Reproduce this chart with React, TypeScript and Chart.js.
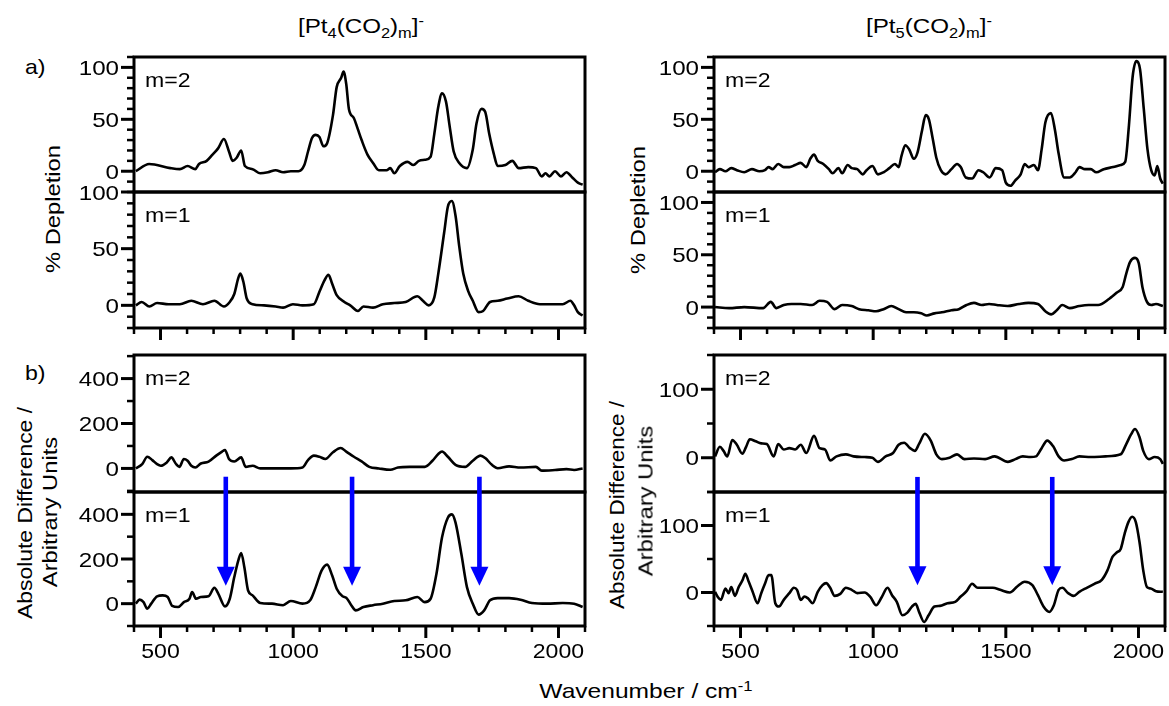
import React, { useEffect, useRef } from "react";
import { Chart, registerables } from "chart.js";

Chart.register(...registerables);

type Pt = [number, number];

// ---------------- axes / ticks ----------------
const xMin = 400;
const xMax = 2100;
const xTickLabels = [500, 1000, 1500, 2000];
const xMinorStep = 100;

const depletionTicks = [0, 50, 100];
const depletionMinorStep = 10;
const pt4DiffTicks = [0, 200, 400];
const pt4DiffMinorStep = 100;
const pt5DiffTicks = [0, 100];
const pt5DiffMinorStep = 50;

// ---------------- [Pt4(CO2)m]- ----------------
const pt4DepletionM2: Pt[] = [
  [407, 0], [457, 7], [537, 3], [573, 2], [602, 5], [631, 2], [645, 7], [674, 10], [696, 16], [717, 22],
  [739, 31], [758, 19], [772, 10], [787, 13], [804, 20], [818, 5], [847, 2], [876, -2], [905, -1], [934, 1],
  [962, -1], [991, 0], [1020, 0], [1042, 6], [1056, 19], [1071, 32], [1085, 35], [1099, 33], [1114, 24], [1128, 27],
  [1150, 54], [1164, 81], [1181, 90], [1190, 96], [1200, 84], [1210, 60], [1229, 51], [1243, 41], [1258, 30], [1280, 16],
  [1301, 8], [1323, 1], [1352, 1], [1366, 3], [1381, -2], [1402, 5], [1431, 9], [1453, 6], [1474, 10], [1496, 11],
  [1518, 14], [1532, 36], [1547, 62], [1561, 75], [1576, 67], [1590, 43], [1605, 19], [1626, 8], [1655, 3], [1677, 21],
  [1691, 46], [1710, 60], [1724, 57], [1739, 36], [1756, 17], [1771, 5], [1800, 6], [1826, 10], [1850, 3], [1886, 4],
  [1915, 3], [1937, -5], [1951, -2], [1966, -5], [1987, 0], [2009, -5], [2030, -1], [2052, -6], [2073, -11], [2091, -13],
];

const pt4DepletionM1: Pt[] = [
  [407, 0], [429, 3], [458, -1], [487, 2], [530, 1], [573, 1], [616, 4], [660, 1], [703, 4], [739, -1],
  [761, 3], [778, 10], [793, 24], [801, 28], [812, 21], [825, 6], [847, 1], [890, 0], [934, -1], [962, -2],
  [999, 1], [1035, 0], [1078, 1], [1099, 12], [1118, 22], [1133, 27], [1147, 19], [1164, 9], [1193, 3], [1215, 0],
  [1244, -5], [1265, -1], [1301, -2], [1338, 1], [1381, 2], [1424, 3], [1468, 8], [1489, 4], [1511, 0], [1532, 7],
  [1547, 28], [1569, 64], [1583, 87], [1598, 92], [1612, 79], [1626, 52], [1641, 28], [1659, 13], [1677, 4], [1699, -6],
  [1716, -5], [1742, 3], [1771, 4], [1807, 6], [1850, 8], [1886, 4], [1930, 1], [1973, 1], [2016, 1], [2045, 4],
  [2059, 0], [2073, -6], [2091, -9],
];

const pt4DiffM2: Pt[] = [
  [407, 0], [431, 19], [450, 52], [469, 37], [487, 19], [501, 12], [524, 27], [541, 49], [557, 22], [571, 7],
  [588, 42], [602, 34], [616, 12], [631, 4], [652, 22], [681, 30], [710, 57], [732, 75], [743, 82], [758, 42],
  [778, 31], [804, 49], [821, 7], [847, 12], [876, 0], [934, 0], [991, 0], [1035, 4], [1056, 37], [1078, 57],
  [1099, 52], [1121, 42], [1150, 72], [1179, 91], [1200, 75], [1229, 52], [1258, 31], [1287, 7], [1323, 0], [1366, -6],
  [1395, 4], [1439, 7], [1496, 7], [1525, 34], [1547, 64], [1561, 75], [1583, 52], [1612, 16], [1648, 7], [1677, 34],
  [1706, 57], [1724, 46], [1749, 16], [1771, 1], [1814, 9], [1857, 4], [1915, 7], [1937, -10], [1987, -7], [2030, -3],
  [2059, -7], [2091, 0],
];

const pt4DiffM1: Pt[] = [
  [407, 0], [421, 18], [436, 7], [450, -22], [465, 0], [487, 33], [508, 37], [527, 30], [544, -10], [566, -15],
  [588, 7], [609, 22], [619, 52], [634, 22], [652, 30], [681, 33], [703, 71], [718, 44], [743, -12], [761, 22],
  [778, 119], [793, 193], [804, 227], [816, 163], [830, 59], [847, 37], [876, 3], [920, 0], [962, -7], [991, 12],
  [1035, 0], [1064, 15], [1085, 74], [1107, 148], [1128, 175], [1147, 126], [1164, 67], [1186, 33], [1200, 27], [1219, -7],
  [1236, -30], [1265, -15], [1301, -7], [1338, 0], [1381, 12], [1424, 15], [1468, 30], [1496, 7], [1518, 22], [1540, 133],
  [1561, 296], [1583, 385], [1598, 400], [1612, 363], [1634, 222], [1655, 74], [1677, 0], [1699, -49], [1720, -30], [1742, 15],
  [1771, 25], [1814, 25], [1857, 18], [1900, 3], [1958, 0], [2016, 3], [2059, 0], [2091, -15],
];

// ---------------- [Pt5(CO2)m]- ----------------
const pt5DepletionM2: Pt[] = [
  [404, -1], [422, 2], [443, 0], [465, 3], [486, 1], [514, -1], [543, 2], [571, 0], [592, 1], [606, 4],
  [621, 2], [642, 7], [663, 4], [684, 4], [706, 6], [727, 8], [748, 4], [763, 12], [777, 16], [791, 10],
  [812, 7], [833, 2], [847, -2], [869, 3], [883, -2], [904, 6], [919, 3], [940, 2], [961, -3], [975, 1],
  [997, 5], [1018, -3], [1039, -1], [1061, 3], [1082, 7], [1096, 4], [1107, 15], [1121, 25], [1136, 21], [1153, 12],
  [1167, 18], [1184, 39], [1198, 54], [1210, 50], [1224, 32], [1238, 13], [1255, 1], [1273, -3], [1295, 2], [1316, 7],
  [1330, 4], [1349, -6], [1373, -7], [1397, 1], [1415, -1], [1439, -6], [1462, 3], [1486, 1], [1500, -11], [1518, -14],
  [1535, -9], [1556, -3], [1571, 7], [1585, 4], [1606, 6], [1621, 1], [1635, 21], [1649, 47], [1670, 56], [1685, 40],
  [1699, 17], [1720, -6], [1741, -6], [1763, -1], [1777, 4], [1798, 2], [1820, 2], [1841, -1], [1869, 2], [1905, 4],
  [1933, 6], [1950, 9], [1964, 44], [1978, 91], [1992, 106], [2006, 98], [2020, 60], [2034, 21], [2048, 1], [2061, -4],
  [2071, 5], [2082, -7], [2092, -12],
];

const pt5DepletionM1: Pt[] = [
  [404, 0], [457, -1], [514, 0], [585, -1], [614, 5], [635, -1], [663, 2], [692, 3], [727, 3], [770, 2],
  [798, 6], [826, 5], [855, -2], [883, 2], [919, 1], [947, -2], [982, -3], [1011, -4], [1039, -2], [1068, 1],
  [1096, -2], [1124, -5], [1153, -5], [1181, -6], [1202, -8], [1231, -6], [1259, -5], [1295, -3], [1323, -2], [1352, 2],
  [1380, 4], [1409, 2], [1437, 3], [1466, 2], [1507, 1], [1550, 3], [1585, 4], [1621, 3], [1649, -4], [1671, -7],
  [1692, -3], [1713, 2], [1741, -1], [1777, 1], [1812, 2], [1848, 2], [1890, 8], [1919, 14], [1940, 19], [1954, 32],
  [1968, 43], [1987, 47], [2001, 42], [2015, 19], [2032, 5], [2048, 2], [2066, 3], [2092, 1],
];

const pt5DiffM2: Pt[] = [
  [404, 2], [422, 16], [436, 10], [450, 2], [469, 26], [486, 19], [507, 6], [521, 16], [535, 27], [557, 24],
  [578, 21], [599, 20], [625, 2], [642, 20], [663, 12], [684, 14], [706, 12], [727, 19], [748, 7], [777, 32],
  [798, 14], [819, 12], [838, -4], [862, 2], [897, 5], [926, 2], [968, 1], [997, 0], [1018, -6], [1047, 2],
  [1075, 7], [1096, 19], [1117, 22], [1139, 14], [1157, 10], [1174, 21], [1195, 35], [1217, 25], [1238, 5], [1259, -2],
  [1288, 0], [1316, 5], [1344, -2], [1380, -1], [1422, -2], [1458, 2], [1508, -6], [1536, -2], [1564, 2], [1593, 1],
  [1614, 2], [1635, 14], [1656, 25], [1678, 17], [1699, 2], [1720, -4], [1749, -2], [1777, 2], [1820, 1], [1876, 2],
  [1933, 5], [1954, 20], [1972, 34], [1987, 42], [2004, 30], [2018, 10], [2039, -2], [2061, 1], [2082, -2], [2092, -9],
];

const pt5DiffM1: Pt[] = [
  [404, 1], [415, -7], [426, -11], [443, 6], [455, -1], [465, 8], [479, -5], [493, 8], [507, 18], [518, 28],
  [531, 16], [545, 2], [564, -16], [578, -1], [592, 13], [606, 26], [616, 26], [631, -16], [645, -21], [663, -11],
  [684, -1], [701, 7], [713, 4], [727, -11], [741, -6], [755, -9], [772, -16], [791, 1], [809, 11], [823, 14],
  [838, 7], [855, -5], [876, -2], [897, 7], [919, 4], [940, -1], [968, 0], [990, -7], [1011, -19], [1032, -7],
  [1054, 7], [1071, -4], [1089, -14], [1110, -34], [1129, -30], [1146, -21], [1160, -17], [1174, -30], [1192, -44], [1209, -34],
  [1231, -21], [1252, -20], [1280, -16], [1309, -14], [1330, -6], [1352, 2], [1373, 13], [1394, 7], [1422, 7], [1451, 7],
  [1479, 4], [1515, 0], [1543, 9], [1571, 16], [1600, 11], [1621, -4], [1642, -21], [1664, -29], [1681, -19], [1699, 4],
  [1713, 7], [1735, -1], [1756, -5], [1777, 1], [1805, 7], [1834, 13], [1862, 19], [1883, 33], [1902, 53], [1919, 60],
  [1933, 65], [1948, 88], [1962, 105], [1976, 113], [1990, 105], [2004, 75], [2018, 33], [2032, 8], [2046, 6], [2066, 2],
  [2092, 1],
];

// arrows (wavenumber positions; start value on the m=2 scale, tip value on the m=1 scale)
const pt4ArrowWavenumbers = [746, 1222, 1702];
const pt4ArrowFrom = -37;
const pt4ArrowTo = 80;
const pt5ArrowWavenumbers = [1167, 1675];
const pt5ArrowFrom = -28;
const pt5ArrowTo = 11;

// ---------------- rendering ----------------
const FONT = '"Liberation Sans", Arial, Helvetica, sans-serif';
const FS = 21;
const TICK_SX = 1.15;
const TEXT_SX = 1.13;
const AXIS_W = 64;

interface Panel {
  data: Pt[];
  min: number;
  max: number;
  weight: number;
  ticks: number[];
  minorStep: number;
  label: string;
}
interface Group {
  left: number;
  top: number;
  width: number;
  height: number;
  padTop: number;
  xAxisH: number;
  showXLabels: boolean;
  upper: Panel;
  lower: Panel;
  arrows?: { wn: number[]; from: number; to: number };
}

const groups: Group[] = [
  {
    left: 70, top: 50, width: 519, height: 295, padTop: 7, xAxisH: 17, showXLabels: false,
    upper: { data: pt4DepletionM2, min: -20, max: 110, weight: 135, ticks: depletionTicks, minorStep: depletionMinorStep, label: "m=2" },
    lower: { data: pt4DepletionM1, min: -20, max: 100, weight: 136, ticks: depletionTicks, minorStep: depletionMinorStep, label: "m=1" },
  },
  {
    left: 650, top: 50, width: 519, height: 295, padTop: 7, xAxisH: 17, showXLabels: false,
    upper: { data: pt5DepletionM2, min: -20, max: 110, weight: 135, ticks: depletionTicks, minorStep: depletionMinorStep, label: "m=2" },
    lower: { data: pt5DepletionM1, min: -20, max: 110, weight: 136, ticks: depletionTicks, minorStep: depletionMinorStep, label: "m=1" },
  },
  {
    left: 70, top: 345, width: 519, height: 325, padTop: 10, xAxisH: 44, showXLabels: true,
    upper: { data: pt4DiffM2, min: -105, max: 505, weight: 137, ticks: pt4DiffTicks, minorStep: pt4DiffMinorStep, label: "m=2" },
    lower: { data: pt4DiffM1, min: -100, max: 500, weight: 134, ticks: pt4DiffTicks, minorStep: pt4DiffMinorStep, label: "m=1" },
    arrows: { wn: pt4ArrowWavenumbers, from: pt4ArrowFrom, to: pt4ArrowTo },
  },
  {
    left: 650, top: 345, width: 519, height: 325, padTop: 10, xAxisH: 44, showXLabels: true,
    upper: { data: pt5DiffM2, min: -50, max: 150, weight: 137, ticks: pt5DiffTicks, minorStep: pt5DiffMinorStep, label: "m=2" },
    lower: { data: pt5DiffM1, min: -50, max: 150, weight: 134, ticks: pt5DiffTicks, minorStep: pt5DiffMinorStep, label: "m=1" },
    arrows: { wn: pt5ArrowWavenumbers, from: pt5ArrowFrom, to: pt5ArrowTo },
  },
];

function stretchText(ctx: CanvasRenderingContext2D, text: string, x: number, y: number, align: CanvasTextAlign, sx: number) {
  ctx.save();
  ctx.translate(x, y);
  ctx.scale(sx, 1);
  ctx.textAlign = align;
  ctx.textBaseline = "alphabetic";
  ctx.fillText(text, 0, 0);
  ctx.restore();
}

function line(ctx: CanvasRenderingContext2D, x1: number, y1: number, x2: number, y2: number) {
  ctx.beginPath();
  ctx.moveTo(x1, y1);
  ctx.lineTo(x2, y2);
  ctx.stroke();
}

function PanelChart({ g }: { g: Group }) {
  const ref = useRef<HTMLCanvasElement | null>(null);
  useEffect(() => {
    const canvas = ref.current;
    if (!canvas) return;
    const framePlugin = {
      id: "frames" + g.left + "_" + g.top,
      afterDatasetsDraw(chart: any) {
        const ctx: CanvasRenderingContext2D = chart.ctx;
        const { left, right } = chart.chartArea;
        const xs = chart.scales.x;
        ctx.save();
        ctx.strokeStyle = "#000";
        ctx.fillStyle = "#000";
        ctx.lineCap = "butt";
        ctx.font = `${FS}px ${FONT}`;
        const pairs: [string, Panel][] = [["yTop", g.upper], ["yBot", g.lower]];
        for (const [id, p] of pairs) {
          const ys = chart.scales[id];
          ctx.lineWidth = 3;
          ctx.strokeRect(left, ys.top, right - left, ys.bottom - ys.top);
          const start = Math.ceil(p.min / p.minorStep) * p.minorStep;
          for (let v = start; v <= p.max + 1e-6; v += p.minorStep) {
            const y = ys.getPixelForValue(v);
            const major = p.ticks.includes(v);
            ctx.lineWidth = major ? 3 : 2.5;
            line(ctx, left - (major ? 13 : 7), y, left, y);
          }
          for (const v of p.ticks) {
            const y = ys.getPixelForValue(v);
            stretchText(ctx, String(v), left - 15, y + 0.36 * FS, "right", TICK_SX);
          }
          stretchText(ctx, p.label, left + 11, ys.top + 30, "left", 1.1);
        }
        // x ticks
        const bottom = chart.scales.yBot.bottom;
        for (let v = xMin; v <= xMax + 1e-6; v += xMinorStep) {
          const x = xs.getPixelForValue(v);
          const major = xTickLabels.includes(v);
          ctx.lineWidth = major ? 3 : 2.5;
          line(ctx, x, bottom, x, bottom + (major ? 12 : 6));
        }
        if (g.showXLabels) {
          for (const v of xTickLabels) {
            stretchText(ctx, String(v), xs.getPixelForValue(v), bottom + 32, "center", 1.1);
          }
        }
        // arrows
        if (g.arrows) {
          const yt = chart.scales.yTop;
          const yb = chart.scales.yBot;
          ctx.fillStyle = "#0000ff";
          for (const wn of g.arrows.wn) {
            const x = xs.getPixelForValue(wn);
            const y0 = yt.getPixelForValue(g.arrows.from);
            const y1 = yb.getPixelForValue(g.arrows.to);
            const head = 19;
            const half = 9;
            ctx.fillRect(x - 2.3, y0, 4.6, y1 - head - y0 + 1);
            ctx.beginPath();
            ctx.moveTo(x - half, y1 - head);
            ctx.lineTo(x + half, y1 - head);
            ctx.lineTo(x, y1);
            ctx.closePath();
            ctx.fill();
          }
        }
        ctx.restore();
      },
    };
    const hidden = {
      grid: { display: false },
      border: { display: false },
      ticks: { display: false },
    };
    const ds = (data: Pt[], yAxisID: string) => ({
      data: data.map(([x, y]) => ({ x, y })),
      xAxisID: "x",
      yAxisID,
      borderColor: "#000",
      borderWidth: 2.6,
      pointRadius: 0,
      cubicInterpolationMode: "monotone",
      fill: false,
    });
    const chart = new Chart(canvas, {
      type: "line",
      data: {
        datasets: [ds(g.upper.data, "yTop"), ds(g.lower.data, "yBot")],
      },
      options: {
        responsive: false,
        animation: false,
        events: [],
        devicePixelRatio: 1,
        layout: { padding: { left: 0, right: 4, top: g.padTop, bottom: 0 } },
        plugins: { legend: { display: false }, tooltip: { enabled: false } },
        scales: {
          x: {
            type: "linear",
            position: "bottom",
            min: xMin,
            max: xMax,
            ...hidden,
            afterFit: (s: any) => {
              s.height = g.xAxisH;
            },
          },
          yBot: {
            type: "linear",
            position: "left",
            stack: "col",
            stackWeight: g.lower.weight,
            weight: 1,
            min: g.lower.min,
            max: g.lower.max,
            ...hidden,
            afterFit: (s: any) => {
              s.width = AXIS_W;
            },
          },
          yTop: {
            type: "linear",
            position: "left",
            stack: "col",
            stackWeight: g.upper.weight,
            weight: 2,
            min: g.upper.min,
            max: g.upper.max,
            ...hidden,
            afterFit: (s: any) => {
              s.width = AXIS_W;
            },
          },
        },
      } as any,
      plugins: [framePlugin],
    } as any);
    return () => chart.destroy();
  }, [g]);
  return (
    <canvas
      ref={ref}
      width={g.width}
      height={g.height}
      style={{ position: "absolute", left: g.left, top: g.top, width: g.width, height: g.height }}
    />
  );
}

const Sub = ({ children }: { children: React.ReactNode }) => (
  <span style={{ fontSize: "0.68em", position: "relative", top: "0.32em" }}>{children}</span>
);
const Sup = ({ children }: { children: React.ReactNode }) => (
  <span style={{ fontSize: "0.68em", position: "relative", top: "-0.5em" }}>{children}</span>
);

function HText({ x, y, align = "center", sx = TEXT_SX, size = FS, children }: { x: number; y: number; align?: "center" | "left"; sx?: number; size?: number; children: React.ReactNode }) {
  return (
    <div
      style={{
        position: "absolute",
        left: x,
        top: y - 0.8465 * size,
        fontFamily: FONT,
        fontSize: size,
        lineHeight: 1,
        whiteSpace: "nowrap",
        color: "#000",
        transform: align === "center" ? `translateX(-50%) scaleX(${sx})` : `scaleX(${sx})`,
        transformOrigin: align === "center" ? "center" : "left",
      }}
    >
      {children}
    </div>
  );
}

function VText({ cx, cy, sx = TEXT_SX, children }: { cx: number; cy: number; sx?: number; children: React.ReactNode }) {
  return (
    <div
      style={{
        position: "absolute",
        left: cx,
        top: cy,
        fontFamily: FONT,
        fontSize: FS,
        lineHeight: 1,
        whiteSpace: "nowrap",
        color: "#000",
        transform: `translate(-50%, -50%) rotate(-90deg) scaleX(${sx})`,
        transformOrigin: "center",
      }}
    >
      {children}
    </div>
  );
}

export default function App() {
  return (
    <div style={{ position: "absolute", left: 0, top: 0, width: 1169, height: 706, overflow: "hidden", background: "#fff" }}>
      {groups.map((g, i) => (
        <PanelChart key={i} g={g} />
      ))}
      <HText x={361} y={33} sx={1.15}>
        [Pt<Sub>4</Sub>(CO<Sub>2</Sub>)<Sub>m</Sub>]<Sup>-</Sup>
      </HText>
      <HText x={929} y={33} sx={1.15}>
        [Pt<Sub>5</Sub>(CO<Sub>2</Sub>)<Sub>m</Sub>]<Sup>-</Sup>
      </HText>
      <HText x={25} y={74} align="left" sx={1.1}>a)</HText>
      <HText x={25} y={380} align="left" sx={1.1}>b)</HText>
      <VText cx={52} cy={209}>% Depletion</VText>
      <VText cx={637} cy={210}>% Depletion</VText>
      <VText cx={24} cy={513} sx={1.09}>Absolute Difference /</VText>
      <VText cx={49} cy={512}>Arbitrary Units</VText>
      <VText cx={616} cy={505} sx={1.07}>Absolute Difference /</VText>
      <VText cx={645} cy={501}>Arbitrary Units</VText>
      <HText x={646} y={698} sx={1.17}>
        Wavenumber / cm<Sup>-1</Sup>
      </HText>
    </div>
  );
}
